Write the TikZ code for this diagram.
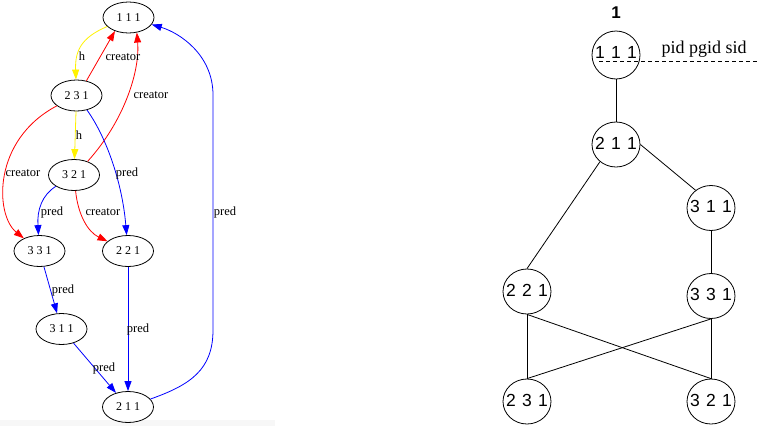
\documentclass[tikz,border=0pt]{standalone}
\usepackage{fontspec}
\setmainfont{Liberation Serif}
\newfontfamily\arialf{Liberation Sans}
\newcommand\rcfont{\arialf\fontsize{17.5}{17.5}\selectfont\spaceskip=0.36em plus 0pt minus 0pt\relax}
\usetikzlibrary{arrows.meta,shapes.geometric}
\begin{document}
\begin{tikzpicture}[x=1pt,y=-1pt,
  gv/.style={ellipse,draw,line width=0.8pt,minimum width=51pt,minimum height=31pt,inner sep=0pt,font=\fontsize{12}{12}\selectfont},
  lab/.style={font=\fontsize{12.5}{12.5}\selectfont,inner sep=0pt},
  gvarrow/.style={line width=0.8pt,-{Triangle[length=10pt,width=7pt]}},
  ye/.style={gvarrow,draw=yellow},
  re/.style={gvarrow,draw=red},
  bl/.style={gvarrow,draw=blue},
  pc/.style={ellipse,draw,line width=0.8pt,minimum width=48pt,minimum height=45pt,inner xsep=-4pt,inner ysep=0pt,text depth=3pt,font=\rcfont},
  tl/.style={line width=0.8pt}]
\useasboundingbox (0,0) rectangle (758,426);
\fill[gray!6] (0,420) rectangle (275,426);
% left graph
\node[gv] (a111) at (128.5,17.5) {1 1 1};
\node[gv] (a231) at (76.5,95.5) {2 3 1};
\node[gv] (a321) at (74,175) {3 2 1};
\node[gv] (a331) at (39.5,251) {3 3 1};
\node[gv] (a221) at (128,251) {2 2 1};
\node[gv] (a311) at (61.5,329) {3 1 1};
\node[gv] (a211) at (128,407) {2 1 1};
\coordinate (b1) at (213,330);
\coordinate (b2) at (213,95);
\draw[ye] (a111) .. controls (80,38) and (75,52) .. (a231);
\draw[re] (a231.56) -- (a111.225);
\draw[re] (a321.45) .. controls (125,120) and (140,70) .. (a111.299);
\draw[ye] (a231) -- (a321);
\draw[re] (a231) .. controls (-8,140) and (-5,215) .. (a331);
\draw[bl] (a231) .. controls (105,135) and (122,180) .. (a221);
\draw[bl] (a321) .. controls (42,195) and (37,210) .. (a331);
\draw[re] (a321) .. controls (78,215) and (88,232) .. (a221);
\draw[bl] (a331) -- (a311);
\draw[bl] (a221) -- (a211);
\draw[bl] (a311) -- (a211);
\draw[bl] (a211) .. controls (190,385) and (213,370) .. (b1) -- (b2) .. controls (213,55) and (180,33) .. (a111);
\node[lab] (lh1) at (82,56) {h};
\node[lab] (lc1) at (123,57) {creator};
\node[lab] (lc2) at (151,95) {creator};
\node[lab] (lh2) at (79,135) {h};
\node[lab] (lc3) at (23,173) {creator};
\node[lab] (lp1) at (127,173) {pred};
\node[lab] (lp2) at (52,212) {pred};
\node[lab] (lc4) at (103,212) {creator};
\node[lab] (lp3) at (63,290) {pred};
\node[lab] (lp4) at (138,329) {pred};
\node[lab] (lp5) at (104,368) {pred};
\node[lab] (lp6) at (225,212) {pred};
% right graph
\node[font=\arialf\bfseries\fontsize{17}{17}\selectfont] (t1) at (616,13) {1};
\node[pc,minimum height=48pt,text depth=5pt] (b111) at (616,55) {1 1 1};
\node[pc] (b211) at (616,144.5) {2 1 1};
\node[pc] (b311) at (711,208) {3 1 1};
\node[pc] (b221) at (527,291.5) {2 2 1};
\node[pc] (b331) at (711,296) {3 3 1};
\node[pc] (b231) at (527,401.5) {2 3 1};
\node[pc] (b321) at (711,401.5) {3 2 1};
\node[font=\fontsize{18}{18}\selectfont] (pid) at (704,49) {pid pgid sid};
\coordinate (dS) at (599,61);
\coordinate (dE) at (758,61);
\draw[line width=0.8pt,dash pattern=on 4pt off 3pt] (dS) -- (dE);
\draw[tl] (b111) -- (b211);
\draw[tl] (b211.east) -- (b311.131);
\draw[tl] (b211.227) -- (b221.north);
\draw[tl] (b311) -- (b331);
\draw[tl] (b221) -- (b231);
\draw[tl] (b331) -- (b321);
\draw[tl] (b221.south) -- (b321.north);
\draw[tl] (b331.south) -- (b231.north);
\end{tikzpicture}
\end{document}
